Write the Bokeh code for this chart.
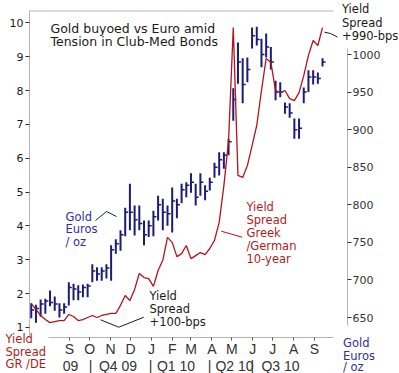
import datetime as dt
from bokeh.plotting import figure
from bokeh.models import Range1d, LinearAxis, FixedTicker, Label, ColumnDataSource
from bokeh.embed import file_html
from bokeh.resources import INLINE

# ---------------- data ----------------
BASE = dt.date(2009, 7, 1)          # x = days since this date
FIRST_WEEK = dt.date(2009, 7, 6)    # first weekly bar

gold_high = [669, 667, 674, 675, 686, 678, 669, 669, 697, 695,
             693, 694, 695, 721, 717, 717, 721, 746, 754, 766,
             796, 828, 799, 799, 779, 779, 792, 812, 808, 799,
             823, 808, 828, 830, 842, 828, 842, 826, 836, 856,
             870, 870, 888, 955, 1016, 995, 996, 1036, 1037, 1021,
             1028, 1010, 965, 963, 936, 935, 915, 915, 956, 979,
             979, 976, 995]
gold_low = [649, 643, 651, 655, 665, 659, 650, 655, 666, 673,
            673, 677, 677, 697, 699, 699, 702, 699, 735, 739,
            758, 766, 759, 766, 746, 757, 758, 779, 766, 772,
            763, 782, 802, 810, 816, 799, 812, 806, 819, 836,
            839, 848, 866, 912, 961, 935, 963, 1008, 1012, 983,
            996, 980, 939, 943, 921, 916, 888, 888, 935, 950,
            960, 961, 984]
gold_close = [660, 662, 668, 672, 670, 668, 660, 664, 690, 688,
              684, 690, 692, 712, 708, 712, 716, 740, 748, 760,
              790, 790, 780, 775, 760, 772, 784, 800, 790, 788,
              805, 800, 820, 826, 830, 810, 830, 818, 830, 850,
              860, 866, 884, 940, 990, 960, 980, 1025, 1020, 1000,
              1010, 990, 950, 950, 930, 922, 900, 902, 950, 970,
              970, 968, 990]
spread = [1.70, 1.53, 1.35, 1.23, 1.14, 1.17, 1.20, 1.20, 1.38, 1.32,
          1.20, 1.23, 1.29, 1.35, 1.29, 1.35, 1.38, 1.41, 1.41, 1.65,
          1.94, 1.79, 2.12, 2.59, 2.47, 2.44, 2.21, 2.68, 2.98, 3.66,
          3.51, 3.09, 3.18, 3.42, 3.03, 3.12, 3.21, 3.15, 3.33, 3.57,
          4.10, 5.19, 6.52, 9.86, 5.49, 5.43, 5.78, 6.37, 6.97, 8.00,
          8.95, 8.83, 8.00, 7.94, 8.00, 7.76, 7.70, 7.94, 8.44, 9.04,
          9.48, 9.33, 9.86]

month_starts = ["2009-09-01", "2009-10-01", "2009-11-01", "2009-12-01",
                "2010-01-01", "2010-02-01", "2010-03-01", "2010-04-01",
                "2010-05-01", "2010-06-01", "2010-07-01", "2010-08-01",
                "2010-09-01"]
month_labels = ["S", "O", "N", "D", "J", "F", "M", "A", "M", "J", "J", "A", "S"]
left_ticks = [1, 2, 3, 4, 5, 6, 7, 8, 9, 10]
right_ticks = [650, 700, 750, 800, 850, 900, 950, 1000]
quarter_labels = ["09", "|", "Q4 09", "|", "Q1 10", "|", "Q2 10", "|", "Q3 10"]

# ---------------- layout (canvas pixels) ----------------
W, H = 399, 373
PX_DAY, DAY_REF, PXX_REF = 0.6712, 62, 69       # x scale
PX_UNIT, UNIT_REF, PXY_REF = 33.83, 2, 293      # left y scale
PX_EUR, EUR_REF, PXG_REF = 0.7514, 650, 317     # right y scale
BASELINE_FIX = 4.5                              # label baseline correction (px)

X0 = DAY_REF - PXX_REF / PX_DAY
X1 = X0 + W / PX_DAY
Y1 = UNIT_REF + PXY_REF / PX_UNIT
Y0 = Y1 - H / PX_UNIT
G1 = EUR_REF + PXG_REF / PX_EUR
G0 = G1 - H / PX_EUR


def dx(px):
    return X0 + px / PX_DAY


def dy(py):
    return Y1 - py / PX_UNIT


def day(s):
    return (dt.date.fromisoformat(s) - BASE).days


BLUE = "#1c1c78"
BLUE_TXT = "#2f2f9c"
RED = "#b0141e"
RED_TXT = "#b01c1c"
BLACK = "#1a1a1a"
GRAY = "#b4b4b4"
FONT = "DejaVu Sans"
FONT2 = "Liberation Sans"

p = figure(width=W, height=H, x_range=Range1d(X0, X1), y_range=Range1d(Y0, Y1),
           output_backend="svg", toolbar_location=None)
p.min_border = 0
p.min_border_left = 0
p.min_border_right = 0
p.min_border_top = 0
p.min_border_bottom = 0
p.extra_y_ranges = {"gold": Range1d(G0, G1)}
p.xgrid.visible = False
p.ygrid.visible = False
p.outline_line_color = None
p.background_fill_color = "white"
p.border_fill_color = "white"

# left axis (spread, %)
ya = p.yaxis[0]
ya.fixed_location = dx(29)
ya.ticker = FixedTicker(ticks=left_ticks)
ya.bounds = (dy(337), dy(10))
ya.axis_line_color = GRAY
ya.major_tick_line_color = "#333333"
ya.major_tick_out = 4
ya.major_tick_in = 0
ya.minor_tick_line_color = None
ya.major_label_text_font = FONT
ya.major_label_text_font_size = "11px"
ya.major_label_text_color = BLACK
ya.major_label_standoff = 2

# right axis (gold, euros / oz)
ra = LinearAxis(y_range_name="gold", ticker=FixedTicker(ticks=right_ticks),
                bounds=(639, 1008), fixed_location=dx(347))
ra.axis_line_color = GRAY
ra.major_tick_line_color = "#333333"
ra.major_tick_out = 4
ra.major_tick_in = 0
ra.minor_tick_line_color = None
ra.major_label_text_font = FONT
ra.major_label_text_font_size = "11px"
ra.major_label_text_color = "#333333"
ra.major_label_standoff = 1
p.add_layout(ra, "right")

# bottom axis (months)
xa = p.xaxis[0]
mdays = [day(s) for s in month_starts]
xa.fixed_location = dy(337)
xa.ticker = FixedTicker(ticks=mdays)
xa.major_label_overrides = {d: l for d, l in zip(mdays, month_labels)}
xa.bounds = (dx(48), dx(333))
xa.axis_line_color = GRAY
xa.major_tick_line_color = "#555555"
xa.major_tick_out = 3
xa.major_tick_in = 0
xa.minor_tick_line_color = None
xa.major_label_text_font = FONT2
xa.major_label_text_font_size = "14px"
xa.major_label_text_color = "#333333"
xa.major_label_standoff = 0

# top frame line
p.segment(x0=[dx(29)], y0=[dy(10.5)], x1=[dx(333)], y1=[dy(10.5)], line_color=GRAY, line_width=1)

# gold bars (weekly high-low with close tick)
days = [(FIRST_WEEK - BASE).days + 7 * i for i in range(len(gold_high))]
src = ColumnDataSource(dict(x=days, hi=gold_high, lo=gold_low, cl=gold_close,
                            xr=[d + 4.5 for d in days]))
p.segment(x0="x", y0="lo", x1="x", y1="hi", source=src, y_range_name="gold",
          line_color=BLUE, line_width=2)
p.segment(x0="x", y0="cl", x1="xr", y1="cl", source=src, y_range_name="gold",
          line_color=BLUE, line_width=1.5)

# yield spread line
p.line(x=days, y=spread, line_color=RED, line_width=1.3)

# pointer lines
p.line(x=[dx(95), dx(106), dx(116)], y=[dy(220), dy(211), dy(216)], line_color=BLUE, line_width=1)
p.line(x=[dx(100), dx(118.3), dx(143.3)], y=[dy(319.3), dy(326.7), dy(316.7)], line_color=BLACK, line_width=1)
p.line(x=[dx(220.7), dx(241.7)], y=[dy(230.7), dy(236.7)], line_color=RED, line_width=1)
p.line(x=[dx(324), dx(330), dx(337)], y=[dy(31.7), dy(33), dy(36.5)], line_color=BLACK, line_width=1)


def txt(px, baselines, lines, color, size="11.5px", align="left", font=FONT):
    for b, t in zip(baselines, lines):
        p.add_layout(Label(x=dx(px), y=dy(b - BASELINE_FIX), text=t, text_font=font,
                           text_font_size=size, text_color=color,
                           text_baseline="alphabetic", text_align=align))


txt(50, [32.7, 45.7], ["Gold buyoed vs Euro amid", "Tension in Club-Med Bonds"], BLACK, size="12.5px")
txt(65, [220.7, 233.3, 245.7], ["Gold", "Euros", "/ oz"], BLUE_TXT)
txt(246, [211, 224, 237, 250, 263], ["Yield", "Spread", "Greek", "/German", "10-year"], RED_TXT)
txt(149, [300, 313, 326], ["Yield", "Spread", "+100-bps"], BLACK)
txt(341.5, [13, 27, 40], ["Yield", "Spread", "+990-bps"], BLACK)
txt(5, [343, 356, 368], ["Yield", "Spread", "GR /DE"], RED_TXT)
txt(342.5, [347, 360, 371], ["Gold", "Euros", "/ oz"], BLUE_TXT)

q_px = [70, 90, 117.5, 150, 175.5, 209, 234, 251.7, 280]
for qp, ql in zip(q_px, quarter_labels):
    txt(qp, [369.5], [ql], "#333333", size="14px", align="center", font=FONT2)

open("out.html", "w").write(file_html(p, INLINE))
